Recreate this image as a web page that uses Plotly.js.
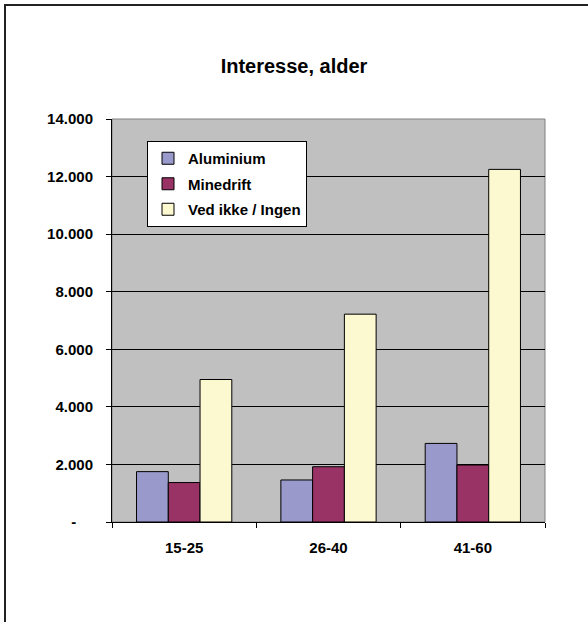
<!DOCTYPE html>
<html>
<head>
<meta charset="utf-8">
<script src="https://cdn.plot.ly/plotly-3.0.1.min.js"></script>
<style>
  html, body { margin: 0; padding: 0; background: #fff; }
  #wrap { position: relative; width: 588px; height: 622px; }
  #chart { width: 588px; height: 622px; }
  #frame { position: absolute; left: 4px; top: 4px; width: 600px; height: 616px;
           border-top: 2px solid #222; border-left: 2px solid #222;
           border-bottom: 1px solid #ccc; pointer-events: none; }
</style>
</head>
<body>
<div id="wrap">
  <div id="chart"></div>
  <div id="frame"></div>
</div>
<script>
const categories = ["15-25", "26-40", "41-60"];
const seriesNames = ["Aluminium", "Minedrift", "Ved ikke / Ingen"];
const aluminium = [1750, 1460, 2730];
const minedrift = [1370, 1920, 1980];
const vedIkke = [4950, 7220, 12250];
const yTickVals = [0, 2000, 4000, 6000, 8000, 10000, 12000, 14000];
const yTickText = ["-\u00a0\u00a0\u00a0\u00a0", "2.000", "4.000", "6.000", "8.000", "10.000", "12.000", "14.000"];

const colors = ["#9999CC", "#993366", "#FCF8CF"];
const seriesValues = [aluminium, minedrift, vedIkke];
const FONT = "Liberation Sans, Arial, sans-serif";

const traces = seriesValues.map((vals, i) => ({
  type: "bar",
  name: seriesNames[i],
  x: categories,
  y: vals,
  legendgroup: "g" + i,
  marker: { color: colors[i], line: { color: "#000", width: 1 } },
  hoverinfo: "x+y+name"
}));

const layout = {
  width: 588,
  height: 622,
  margin: { l: 112, r: 43, t: 119, b: 100 },
  paper_bgcolor: "#ffffff",
  plot_bgcolor: "#C0C0C0",
  barmode: "group",
  bargap: 0.34,
  bargroupgap: 0,
  title: {
    text: "Interesse, alder",
    font: { family: FONT, size: 20, color: "#000", weight: "bold" },
    x: 0.5, xanchor: "center",
    y: 1 - 66 / 622, yref: "container", yanchor: "middle"
  },
  xaxis: {
    type: "category",
    showline: true, linecolor: "#000", linewidth: 1,
    ticks: "outside", ticklen: 5, tickcolor: "#000",
    tickson: "boundaries",
    showgrid: false,
    tickfont: { family: FONT, size: 15, color: "#000", weight: "bold" },
    ticklabelstandoff: 12
  },
  yaxis: {
    range: [0, 14000],
    tickvals: yTickVals,
    ticktext: yTickText,
    showline: true, linecolor: "#000", linewidth: 1,
    ticks: "outside", ticklen: 5, tickcolor: "#000",
    showgrid: true, gridcolor: "#000", gridwidth: 1,
    zeroline: false,
    tickfont: { family: FONT, size: 15, color: "#000", weight: "bold" },
    ticklabelstandoff: 10
  },
  legend: {
    x: 35 / 433, y: (522 - 141) / 403, xanchor: "left", yanchor: "top",
    bgcolor: "#fff", bordercolor: "#000", borderwidth: 1,
    font: { family: FONT, size: 15, color: "#000", weight: "bold" },
    tracegroupgap: 3,
    itemwidth: 30
  },
  shapes: [
    { type: "rect", xref: "paper", yref: "paper", x0: 0, x1: 1, y0: 0, y1: 1,
      line: { color: "#808080", width: 1 }, layer: "below" }
  ],
  showlegend: true
};

Plotly.newPlot("chart", traces, layout, { displayModeBar: false, staticPlot: true });
</script>
</body>
</html>
